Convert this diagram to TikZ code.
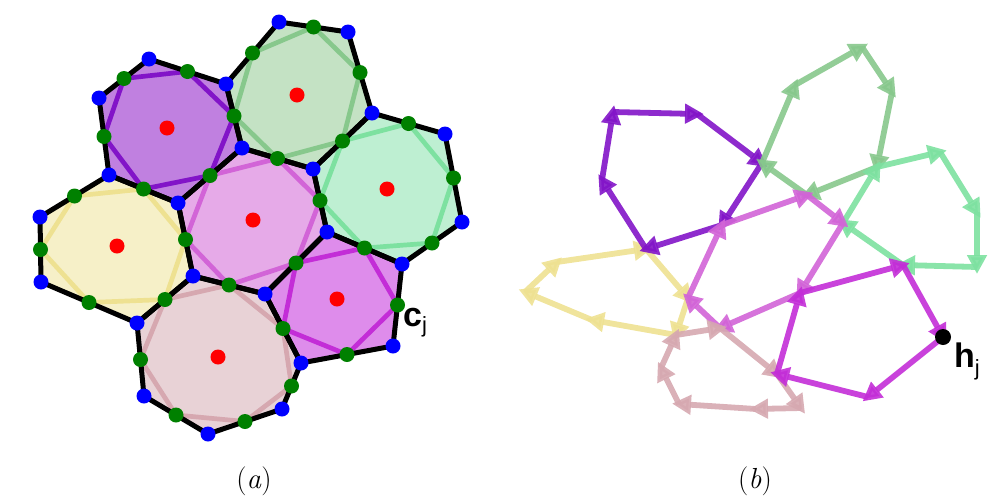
\documentclass[tikz,border=0pt]{standalone}
\usepackage{fontspec}
\setsansfont{Liberation Sans}
\usetikzlibrary{calc,arrows.meta}
\definecolor{cPurF}{HTML}{C080E0}\definecolor{cPurS}{HTML}{8214C8}
\definecolor{cGgF}{HTML}{C4E2C4}\definecolor{cGgS}{HTML}{87C88C}
\definecolor{cMiF}{HTML}{BEEFD2}\definecolor{cMiS}{HTML}{7DE1A0}
\definecolor{cPiF}{HTML}{E6AAE8}\definecolor{cPiS}{HTML}{D264D7}
\definecolor{cMaF}{HTML}{DE8CEB}\definecolor{cMaS}{HTML}{C32DD7}
\definecolor{cYeF}{HTML}{F6F0C8}\definecolor{cYeS}{HTML}{EEE191}
\definecolor{cRoF}{HTML}{E8D2D6}\definecolor{cRoS}{HTML}{D6A8B0}
\definecolor{dgreen}{RGB}{0,128,0}
\begin{document}
\begin{tikzpicture}[x=1pt,y=-1pt,
  inner/.style={line width=4.7pt,line join=round},
  edge/.style={line width=5pt,line join=round,draw=black},
  bdot/.style={circle,fill=blue,inner sep=0pt,minimum size=15pt},
  gdot/.style={circle,fill=dgreen,inner sep=0pt,minimum size=15pt},
  rdot/.style={circle,fill=red,inner sep=0pt,minimum size=15pt},
  arr/.style={line width=5.8pt,-{Triangle[length=19pt,width=19pt]},shorten >=-7pt,opacity=0.9},
  lab/.style={inner sep=0pt,anchor=base west,font=\sffamily\fontsize{34}{34}\selectfont},
  captext/.style={inner sep=0pt,font=\fontsize{29}{29}\selectfont}]
\useasboundingbox (0,0) rectangle (1003,501);
% ---------- left panel: cell vertices ----------
\coordinate (v1) at (149,59);  \coordinate (v2) at (226,84);
\coordinate (v3) at (99,98);   \coordinate (v4) at (242,148);
\coordinate (v5) at (109,175); \coordinate (v6) at (178,203);
\coordinate (v7) at (40,217);  \coordinate (v8) at (279,22);
\coordinate (v9) at (348,32);  \coordinate (v10) at (372,113);
\coordinate (v11) at (313,169);\coordinate (v12) at (445,134);
\coordinate (v13) at (462,222);\coordinate (v14) at (402,264);
\coordinate (v15) at (327,232);\coordinate (v16) at (265,294);
\coordinate (v17) at (393,346);\coordinate (v18) at (301,363);
\coordinate (v19) at (282,409);\coordinate (v20) at (193,276);
\coordinate (v21) at (41,282); \coordinate (v22) at (137,323);
\coordinate (v23) at (144,396);\coordinate (v24) at (208,434);
% edge midpoints
\foreach \n/\a/\b in {1/1/2,2/2/4,3/4/6,4/6/5,5/5/3,6/3/1,7/8/9,8/9/10,9/10/11,10/11/4,
  11/2/8,12/10/12,13/12/13,14/13/14,15/14/15,16/15/11,17/15/16,18/16/20,19/20/6,20/14/17,
  21/17/18,22/18/16,23/20/22,24/22/21,25/21/7,26/7/5,27/18/19,28/19/24,29/24/23,30/23/22}
  {\coordinate (e\n) at ($(v\a)!0.5!(v\b)$);}
% fills
\fill[cPurF] (v1)--(v2)--(v4)--(v6)--(v5)--(v3)--cycle;
\fill[cGgF] (v8)--(v9)--(v10)--(v11)--(v4)--(v2)--cycle;
\fill[cMiF] (v10)--(v12)--(v13)--(v14)--(v15)--(v11)--cycle;
\fill[cPiF] (v4)--(v11)--(v15)--(v16)--(v20)--(v6)--cycle;
\fill[cMaF] (v15)--(v14)--(v17)--(v18)--(v16)--cycle;
\fill[cYeF] (v5)--(v6)--(v20)--(v22)--(v21)--(v7)--cycle;
\fill[cRoF] (v20)--(v16)--(v18)--(v19)--(v24)--(v23)--(v22)--cycle;
% inner midpoint polygons
\draw[inner,cPurS] (e1)--(e2)--(e3)--(e4)--(e5)--(e6)--cycle;
\draw[inner,cGgS] (e7)--(e8)--(e9)--(e10)--(e2)--(e11)--cycle;
\draw[inner,cMiS] (e12)--(e13)--(e14)--(e15)--(e16)--(e9)--cycle;
\draw[inner,cPiS] (e10)--(e16)--(e17)--(e18)--(e19)--(e3)--cycle;
\draw[inner,cMaS] (e15)--(e20)--(e21)--(e22)--(e17)--cycle;
\draw[inner,cYeS] (e4)--(e19)--(e23)--(e24)--(e25)--(e26)--cycle;
\draw[inner,cRoS] (e18)--(e22)--(e27)--(e28)--(e29)--(e30)--(e23)--cycle;
% black cell edges
\draw[edge] (v1)--(v2)--(v4)--(v6)--(v5)--(v3)--cycle;
\draw[edge] (v8)--(v9)--(v10)--(v11)--(v4)--(v2)--cycle;
\draw[edge] (v10)--(v12)--(v13)--(v14)--(v15)--(v11)--cycle;
\draw[edge] (v4)--(v11)--(v15)--(v16)--(v20)--(v6)--cycle;
\draw[edge] (v15)--(v14)--(v17)--(v18)--(v16)--cycle;
\draw[edge] (v5)--(v6)--(v20)--(v22)--(v21)--(v7)--cycle;
\draw[edge] (v20)--(v16)--(v18)--(v19)--(v24)--(v23)--(v22)--cycle;
% dots
\foreach \i in {1,...,30} \node[gdot] (gd\i) at (e\i) {};
\foreach \i in {1,...,24} \node[bdot] (bd\i) at (v\i) {};
\node[rdot] (cPur) at (167,128) {};
\node[rdot] (cGg) at (297,95) {};
\node[rdot] (cMi) at (387,189) {};
\node[rdot] (cPi) at (253,220) {};
\node[rdot] (cMa) at (337,299) {};
\node[rdot] (cYe) at (117,246) {};
\node[rdot] (cRo) at (218,357) {};
\node[lab] (cj) at (403,326) {\textbf{c}\raisebox{-6pt}{\fontsize{22}{22}\selectfont j}};
\node[captext] (capa) at (254,481) {(\textit{a})};
% ---------- right panel ----------
\coordinate (a) at (613,112); \coordinate (b) at (697,114);
\coordinate (c) at (762,163); \coordinate (d) at (722,225);
\coordinate (e) at (646,249); \coordinate (f) at (602,180);
\coordinate (g1) at (862,47); \coordinate (g2) at (795,85);
\coordinate (g3) at (892,92); \coordinate (g5) at (807,195);
\coordinate (g6) at (877,167);
\coordinate (m1) at (940,152);\coordinate (m2) at (977,212);
\coordinate (m3) at (977,267);\coordinate (m4) at (903,265);
\coordinate (m5) at (843,223);
\coordinate (hj) at (943,337);\coordinate (n4) at (868,397);
\coordinate (n3) at (777,374);\coordinate (n2) at (800,293);
\coordinate (p5) at (720,328);\coordinate (p4) at (688,298);
\coordinate (y1) at (557,262);\coordinate (y2) at (525,292);
\coordinate (y3) at (592,320);\coordinate (y4) at (676,335);
\coordinate (r1) at (801,408);\coordinate (r2) at (756,409);
\coordinate (r3) at (679,404);\coordinate (r4) at (661,368);
\foreach \s/\t in {y1/e,e/p4,p4/y4,y4/y3,y3/y2,y2/y1} \draw[arr,cYeS] (\s)--(\t);
\foreach \s/\t in {a/b,b/c,c/d,d/e,e/f,f/a} \draw[arr,cPurS] (\s)--(\t);
\foreach \s/\t in {c/g2,g2/g1,g1/g3,g3/g6,g6/g5,g5/c} \draw[arr,cGgS] (\s)--(\t);
\foreach \s/\t in {g6/m1,m1/m2,m2/m3,m3/m4,m4/m5,m5/g6} \draw[arr,cMiS] (\s)--(\t);
\foreach \s/\t in {d/g5,g5/m5,m5/n2,n2/p5,p5/p4,p4/d} \draw[arr,cPiS] (\s)--(\t);
\foreach \s/\t in {p5/n3,n3/r1,r1/r2,r2/r3,r3/r4,r4/y4,y4/p5} \draw[arr,cRoS] (\s)--(\t);
\foreach \s/\t in {m4/hj,hj/n4,n4/n3,n3/n2,n2/m4} \draw[arr,cMaS] (\s)--(\t);
\node[circle,fill=black,inner sep=0pt,minimum size=16pt] (hdot) at (hj) {};
\node[lab] (hjl) at (954,367) {\textbf{h}\raisebox{-8pt}{\fontsize{22}{22}\selectfont j}};
\node[captext] (capb) at (755,481) {(\textit{b})};
\end{tikzpicture}
\end{document}
